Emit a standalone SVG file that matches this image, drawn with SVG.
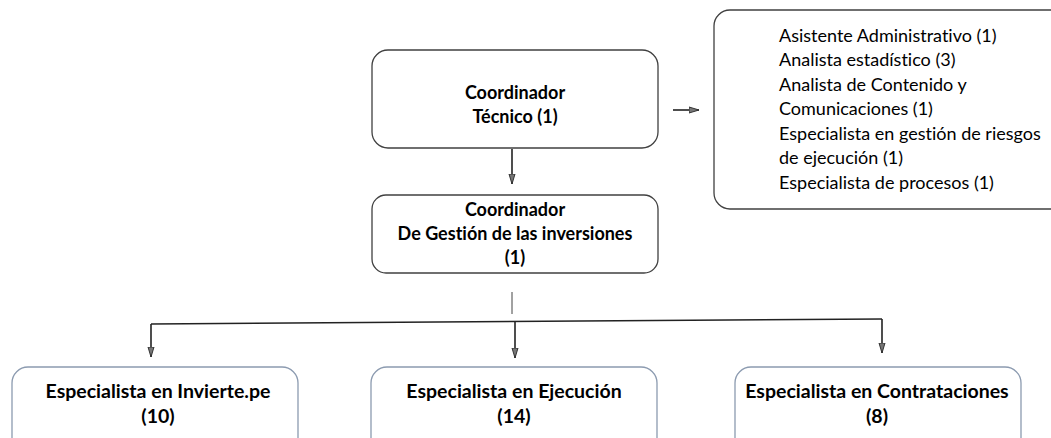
<svg xmlns="http://www.w3.org/2000/svg" width="1051" height="438" viewBox="0 0 1051 438">
<defs>
<marker id="ar" viewBox="0 0 10 8" refX="10" refY="4" markerWidth="10" markerHeight="8" markerUnits="userSpaceOnUse" orient="auto">
<path d="M0,1 L10,4 L0,7 Z" fill="#777" stroke="#333" stroke-width="1"/>
</marker>
<style>
.box{fill:#fff;stroke:#404040;stroke-width:1.3}
.boxb{fill:#fff;stroke:#8c9bb0;stroke-width:1.3}
.t{font-family:Lato,"Open Sans","Liberation Sans",sans-serif;font-size:18px;fill:#000;font-variant-ligatures:none}
.b{font-weight:bold;text-anchor:middle}
.bt{font-size:19.5px}
.c{stroke:#222;stroke-width:1.6;fill:none}
.thin{stroke:#444;stroke-width:1;fill:none}
</style>
</defs>
<rect width="1051" height="438" fill="#fff"/>
<g id="connectors">
<line class="c" x1="512" y1="149" x2="512" y2="184" marker-end="url(#ar)"/>
<line class="c" x1="673" y1="110" x2="699" y2="110" marker-end="url(#ar)"/>
<line class="thin" x1="512" y1="292" x2="512" y2="314"/>
<line class="c" x1="151" y1="324" x2="882" y2="319"/>
<line class="c" x1="151" y1="324" x2="151" y2="357" marker-end="url(#ar)"/>
<line class="c" x1="515" y1="322" x2="515" y2="358" marker-end="url(#ar)"/>
<line class="c" x1="882" y1="319" x2="882" y2="353" marker-end="url(#ar)"/>
</g>
<g id="coordinador-tecnico">
<rect class="box" x="372" y="50" width="286" height="98" rx="16"/>
<text class="t b" x="515" y="99">Coordinador</text>
<text class="t b" x="515" y="123">Técnico (1)</text>
</g>
<g id="staff">
<rect class="box" x="714" y="10" width="360" height="199" rx="16"/>
<text class="t" x="779" y="42">Asistente Administrativo (1)</text>
<text class="t" x="779" y="66">Analista estadístico (3)</text>
<text class="t" x="779" y="91">Analista de Contenido y</text>
<text class="t" x="779" y="115">Comunicaciones (1)</text>
<text class="t" x="779" y="140">Especialista en gestión de riesgos</text>
<text class="t" x="779" y="164">de ejecución (1)</text>
<text class="t" x="779" y="189">Especialista de procesos (1)</text>
</g>
<g id="coordinador-gestion">
<rect class="box" x="372" y="195" width="286" height="78" rx="14"/>
<text class="t b" x="515" y="216">Coordinador</text>
<text class="t b" x="515" y="240">De Gestión de las inversiones</text>
<text class="t b" x="515" y="264">(1)</text>
</g>
<g id="especialista-invierte">
<rect class="boxb" x="12" y="367" width="286" height="90" rx="16"/>
<text class="t b bt" x="158" y="398">Especialista en Invierte.pe</text>
<text class="t b bt" x="158" y="423">(10)</text>
</g>
<g id="especialista-ejecucion">
<rect class="boxb" x="371" y="367" width="286" height="90" rx="16"/>
<text class="t b bt" x="514" y="398">Especialista en Ejecución</text>
<text class="t b bt" x="514" y="423">(14)</text>
</g>
<g id="especialista-contrataciones">
<rect class="boxb" x="735" y="367" width="286" height="90" rx="16"/>
<text class="t b bt" x="877" y="398">Especialista en Contrataciones</text>
<text class="t b bt" x="877" y="423">(8)</text>
</g>
</svg>
